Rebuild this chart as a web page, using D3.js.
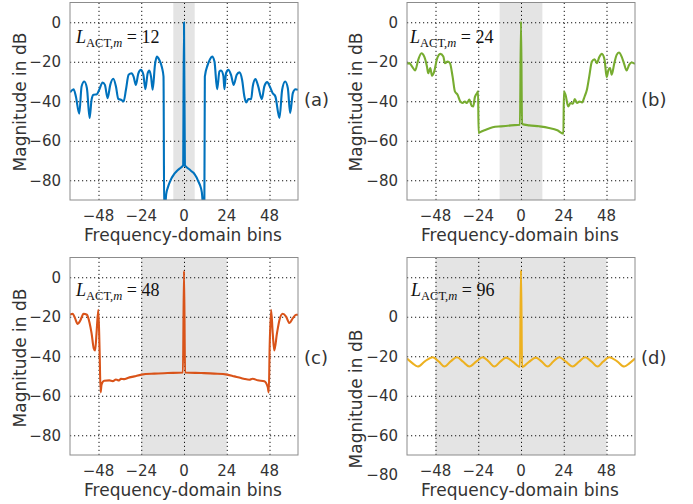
<!DOCTYPE html>
<html>
<head>
<meta charset="utf-8">
<script src="https://cdn.jsdelivr.net/npm/d3@7"></script>
<style>
  body { margin: 0; background: #fff; }
  .lbl { font-family: "DejaVu Sans", sans-serif; fill: #333; }
</style>
</head>
<body>
<svg id="chart" width="693" height="504"></svg>
<script>
// values (bins / magnitude in dB)
var binsA = [-64,-62,-60.7,-58.8,-57.5,-56,-54.5,-53,-51.9,-50.8,-48.9,-47.6,-45.7,-44.4,-42.9,-41.4,-39.7,-38.2,-36.9,-35.4,-33.9,-32.6,-31.1,-29.4,-28.3,-27,-25.7,-24.2,-22.8,-21.7,-20.4,-19.5,-18.5,-17.6,-16.3,-15.2,-13.9,-12.4,-11.5,-11.1,-10,-9,-8,-7,-6,-5,-4,-3,-2,-1,-0.5,0,0.5,1,2,3,4,5,6,7,8,9,10,11.4,11.7,13.3,14.6,15.8,17.1,18.6,19.9,20.8,22.1,22.7,23.6,24.9,26.4,27.9,29.6,31.1,32.6,33.9,34.9,36.2,37.7,38.6,40.1,41.6,43.7,45.1,46.7,48.3,49.8,51.3,53.6,55.1,56.8,58.3,59.6,61.1,62.6,64];
var magA  = [-35.5,-33.9,-37.6,-46.3,-32.5,-30,-33.4,-48.5,-39.3,-36.7,-36.4,-34.2,-30.5,-31.7,-38.4,-31.7,-28.6,-32.5,-38.9,-39.2,-40.1,-34.2,-26.6,-25.8,-27.5,-31.7,-26.1,-24.1,-26.6,-33.9,-25.8,-24.4,-27.5,-34.2,-21.6,-17.4,-19,-22.8,-27.5,-100,-87,-83.5,-81,-79,-77.5,-76.3,-75.3,-74.5,-73.8,-73,-72.5,0,-72.5,-73,-73.8,-74.4,-75.3,-76,-77,-78.5,-80.5,-82.5,-86,-100,-27.5,-21.6,-18.7,-17.4,-19.9,-33.9,-24.9,-24.4,-27.1,-33.9,-25.8,-24.1,-26.6,-31.7,-26.6,-25.4,-29.1,-37.6,-40.6,-38.9,-38.9,-32.5,-28.8,-32.2,-38.9,-32.5,-30.3,-32.8,-35.9,-37.6,-48.5,-34.2,-30,-33.4,-46,-35.9,-33.9,-34.2];

var binsB = [-64,-62.7,-61.4,-59.4,-57.7,-55.9,-54.3,-52.8,-52.1,-50.9,-50,-48.7,-47.2,-45.3,-43.6,-42.7,-41.2,-39.9,-38.4,-37.1,-35.6,-34.1,-32.8,-31.5,-30.4,-29,-27.7,-26.8,-25.9,-24.7,-24.1,-23.8,-22.9,-19.7,-15.9,-11.3,-5.6,-0.6,0,0.6,4.6,10.2,15.7,20.4,23.8,24.1,25,26.5,27.8,29.1,30.2,31.5,32.8,34.3,35.7,37,38.3,39.8,41.3,42.6,43.9,45.4,46.9,48.1,49.1,50,50.9,52.4,53.7,55,56.5,57.9,59.3,60.7,62,64];
var magB  = [-21.1,-20.7,-22.1,-24.4,-19,-15.7,-17.4,-22.4,-25.8,-23.2,-27.1,-24.9,-18.7,-16,-17.4,-20.7,-19.9,-20.7,-27.5,-35,-36.7,-40.1,-40.9,-40.1,-40.9,-39.2,-42.3,-42.6,-37.9,-35.9,-35,-56.1,-55.6,-54.4,-53.2,-52.7,-52.2,-51.9,0.5,-51.5,-52.2,-52.7,-53.5,-54.7,-56.4,-35,-36.7,-42.6,-40.9,-41.3,-38.9,-40.9,-40.1,-40.6,-37.6,-34.2,-27.5,-19.9,-18.7,-20.7,-17.7,-16,-19,-27.8,-24.1,-23.2,-26.6,-20.7,-16.5,-15.3,-17.4,-21.1,-24.4,-21.6,-20.4,-21.1];

var binsC = [-64,-62.5,-61.2,-59.7,-58.2,-56.4,-54.5,-53,-51.9,-50.7,-49.9,-49.1,-48.1,-47.4,-46.8,-46.3,-44.8,-41.9,-40,-38.2,-36.5,-35.4,-33.5,-31.6,-27.9,-23.8,-16.7,-9.2,-0.6,0,0.6,9.6,17,24.2,28.3,32,34,36.7,38.5,41.4,45.1,47,47.6,48.1,48.9,49.8,50.7,52.2,53.6,55.4,57.3,59.2,61.1,62.9,64];
var magC  = [-19,-18.5,-20.7,-23.6,-21.9,-18.5,-19,-23.2,-28.3,-35.9,-37.1,-28.3,-16.5,-36.7,-58.3,-54.4,-52.4,-52.2,-52.6,-51.8,-52.3,-51.4,-51.6,-51,-50.2,-49.3,-48.8,-48.5,-48.2,3.3,-48.2,-48.5,-48.8,-49.3,-50.2,-51,-51.5,-51.9,-51.4,-52.2,-52.7,-55.6,-58.3,-35,-16.5,-28.3,-37.1,-28.3,-21.6,-18.5,-19.9,-23.2,-20.7,-19,-19];

var binsD = [-64,-61,-58,-54,-49.6,-46,-43,-39.5,-36,-32.5,-29,-25,-21.5,-18,-15,-11.5,-8.4,-4.5,-0.6,0,0.6,4.5,8.4,11.5,15,18,21.5,25,29,32.5,36,39.5,43,46,49.6,54,58,61,64];
var magD  = [-21.2,-23.5,-25.2,-22.6,-20.5,-22.8,-25.2,-22.6,-20.5,-22.8,-25.2,-22.6,-20.5,-22.8,-25.2,-22.6,-20.7,-22.8,-25.3,23.7,-25.5,-22.8,-20.7,-22.6,-25.2,-22.8,-20.5,-22.6,-25.2,-22.8,-20.5,-22.6,-25.2,-22.8,-20.5,-22.6,-25.2,-23.5,-21.2];

var xTicks = [-48, -24, 0, 24, 48];
var yTicks = [0, -20, -40, -60, -80];
var yGridD = [20, 0, -20, -40, -60];
var panelTags = ["(a)", "(b)", "(c)", "(d)"];
var lAct = [12, 24, 48, 96];

var svg = d3.select("#chart");
var w = 228, h = 197.5;
var fmt = d3.format("d");

var panels = [
  {bins: binsA, mag: magA, left: 70,  top: 2.5, yDom: [-90, 10], grid: yTicks, color: "#0072BD", ylx: 20,  yly: 102, tx: 304, ty: 99,  lx: 76,  ly: 43},
  {bins: binsB, mag: magB, left: 407, top: 2.5, yDom: [-90, 10], grid: yTicks, color: "#77AC30", ylx: 356, yly: 102, tx: 641, ty: 99,  lx: 410, ly: 43},
  {bins: binsC, mag: magC, left: 70,  top: 257.5, yDom: [-90, 10], grid: yTicks, color: "#D95319", ylx: 20,  yly: 358, tx: 304, ty: 357, lx: 76,  ly: 296},
  {bins: binsD, mag: magD, left: 407, top: 257.5, yDom: [-70, 30], grid: yGridD, color: "#EDB120", ylx: 356, yly: 399, tx: 641, ty: 357, lx: 411, ly: 296}
];

panels.forEach(function(p, i) {
  var x = d3.scaleLinear().domain([-64, 64]).range([0, w]);
  var y = d3.scaleLinear().domain(p.yDom).range([h, 0]);

  var g = svg.append("g").attr("transform", "translate(" + p.left + "," + p.top + ")");

  g.append("clipPath").attr("id", "clip" + i)
    .append("rect").attr("width", w).attr("height", h);

  // shaded band of width L_ACT,m around bin 0
  g.append("rect")
    .attr("x", x(-lAct[i] / 2)).attr("y", 0)
    .attr("width", x(lAct[i] / 2) - x(-lAct[i] / 2)).attr("height", h)
    .attr("fill", "#e4e4e4");

  // dotted grid
  var gx = g.append("g").attr("transform", "translate(0," + h + ")")
    .call(d3.axisBottom(x).tickValues(xTicks).tickSize(-h).tickFormat(""));
  var gy = g.append("g")
    .call(d3.axisLeft(y).tickValues(p.grid).tickSize(-w).tickFormat(""));
  [gx, gy].forEach(function(a) {
    a.select(".domain").remove();
    a.selectAll("line").attr("stroke", "#111").attr("stroke-dasharray", "1.2,2.8");
  });

  var line = d3.line()
    .x(function(d) { return x(d[0]); })
    .y(function(d) { return y(d[1]); })
    .curve(d3.curveMonotoneX);

  g.append("path")
    .datum(p.bins.map(function(b, k) { return [b, p.mag[k]]; }))
    .attr("clip-path", "url(#clip" + i + ")")
    .attr("fill", "none")
    .attr("stroke", p.color)
    .attr("stroke-width", 2.1)
    .attr("stroke-linejoin", "round")
    .attr("d", line);

  g.append("rect").attr("width", w).attr("height", h)
    .attr("fill", "none").attr("stroke", "#8c8c8c").attr("stroke-width", 1);

  // tick labels
  g.selectAll(".xt").data(xTicks).enter().append("text")
    .attr("class", "lbl")
    .attr("x", function(d) { return x(d); })
    .attr("y", h + 21)
    .attr("text-anchor", "middle")
    .style("font-size", "15px")
    .text(function(d) { return fmt(d); });

  g.selectAll(".yt").data(yTicks).enter().append("text")
    .attr("class", "lbl")
    .attr("x", -9)
    .attr("y", function(d) { return y(d); })
    .attr("dy", "0.36em")
    .attr("text-anchor", "end")
    .style("font-size", "15px")
    .text(function(d) { return fmt(d); });

  g.append("text").attr("class", "lbl")
    .attr("x", w / 2 - 1).attr("y", h + 41)
    .attr("text-anchor", "middle").style("font-size", "17px")
    .text("Frequency-domain bins");

  svg.append("text").attr("class", "lbl")
    .attr("transform", "translate(" + p.ylx + "," + p.yly + ") rotate(-90)")
    .attr("text-anchor", "middle").attr("dominant-baseline", "central")
    .style("font-size", "17px")
    .text("Magnitude in dB");

  svg.append("text").attr("class", "lbl")
    .attr("x", p.tx).attr("y", p.ty).attr("dominant-baseline", "central")
    .style("font-size", "18px")
    .text(panelTags[i]);

  var lt = svg.append("text")
    .attr("x", p.lx).attr("y", p.ly)
    .attr("font-family", "'Liberation Serif', 'Times New Roman', serif")
    .attr("font-size", 18).attr("fill", "#111");
  lt.append("tspan").attr("font-style", "italic").text("L");
  lt.append("tspan").attr("font-size", 12.5).attr("dy", 4).text("ACT,");
  lt.append("tspan").attr("font-size", 12.5).attr("font-style", "italic").text("m");
  lt.append("tspan").attr("dy", -4).text(" = " + lAct[i]);
});
</script>
</body>
</html>
